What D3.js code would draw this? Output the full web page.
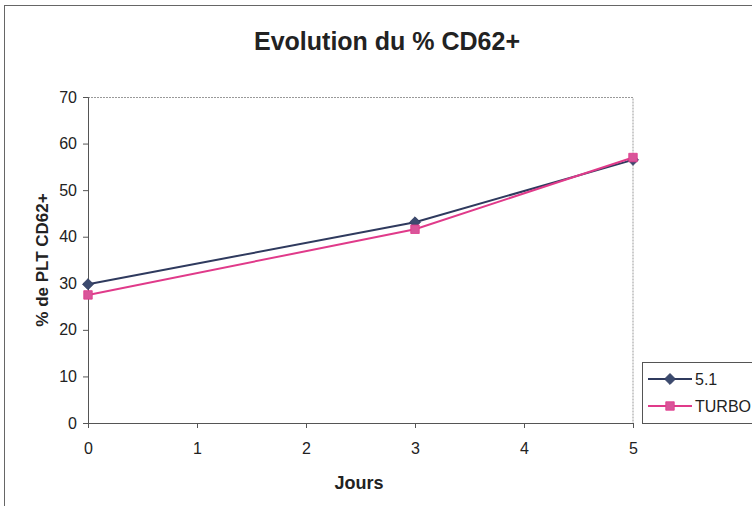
<!DOCTYPE html>
<html>
<head>
<meta charset="utf-8">
<script src="https://cdn.jsdelivr.net/npm/d3@7"></script>
<style>
  body { margin: 0; background: #fff; }
  svg { display: block; font-family: "Liberation Sans", Arial, sans-serif; }
</style>
</head>
<body>
<div id="chart"></div>
<script>
const days = [0, 3, 5];
const serie51 = [29.8, 43.1, 56.5];
const serieTurbo = [27.5, 41.6, 57.0];
const seriesNames = ['5.1', 'TURBO'];
const xTicks = [0, 1, 2, 3, 4, 5];
const yTicks = [0, 10, 20, 30, 40, 50, 60, 70];

const W = 752, H = 506;
const margin = { top: 97, right: 119, bottom: 83, left: 88 };
const iW = W - margin.left - margin.right;
const iH = H - margin.top - margin.bottom;
const FONT = '"Liberation Sans", Arial, sans-serif';

const svg = d3.select('#chart').append('svg')
  .attr('width', W).attr('height', H);

// outer chart frame
svg.append('rect')
  .attr('x', 4.5).attr('y', 5.5)
  .attr('width', W + 20).attr('height', H + 20)
  .attr('fill', 'none').attr('stroke', '#666').attr('stroke-width', 1);

svg.append('text')
  .attr('x', 387).attr('y', 50)
  .attr('text-anchor', 'middle')
  .attr('font-size', '25px').attr('font-weight', 'bold')
  .attr('fill', '#222')
  .text('Evolution du % CD62+');

const g = svg.append('g').attr('transform', `translate(${margin.left},${margin.top})`);

const x = d3.scaleLinear().domain([0, 5]).range([0, iW]);
const y = d3.scaleLinear().domain([0, 70]).range([iH, 0]);

// plot area top/right border (dotted)
g.append('path')
  .attr('d', `M0,0.5H${iW}V${iH}`)
  .attr('fill', 'none').attr('stroke', '#999')
  .attr('stroke-dasharray', '2,1');

// axes
g.append('g')
  .call(d3.axisLeft(y).tickValues(yTicks).tickSize(5).tickPadding(6))
  .call(ax => ax.select('.domain').attr('stroke', '#555'))
  .call(ax => ax.selectAll('.tick line').attr('stroke', '#555'))
  .call(ax => ax.selectAll('text').attr('font-size', '16px').attr('fill', '#222')
    .attr('font-family', FONT));

g.append('g')
  .attr('transform', `translate(0,${iH})`)
  .call(d3.axisBottom(x).tickValues(xTicks).tickFormat(d3.format('d')).tickSize(5).tickPadding(15))
  .call(ax => ax.select('.domain').attr('stroke', '#555'))
  .call(ax => ax.selectAll('.tick line').attr('stroke', '#555'))
  .call(ax => ax.selectAll('text').attr('font-size', '16px').attr('fill', '#222')
    .attr('font-family', FONT));

// axis titles
svg.append('text')
  .attr('transform', `translate(48,${margin.top + iH / 2}) rotate(-90)`)
  .attr('text-anchor', 'middle')
  .attr('font-size', '17px').attr('font-weight', 'bold').attr('fill', '#222')
  .text('% de PLT CD62+');

svg.append('text')
  .attr('x', 359).attr('y', 489)
  .attr('text-anchor', 'middle')
  .attr('font-size', '18px').attr('font-weight', 'bold').attr('fill', '#222')
  .text('Jours');

// Excel style markers: diamond = square turned 45 degrees
const diamond = d3.symbol().type(d3.symbolSquare).size(60);
const square = d3.symbol().type(d3.symbolSquare).size(72);

const series = [
  { name: seriesNames[0], values: serie51, color: '#2f3a5e', marker: '#3b4a6e', sym: diamond, rot: 45 },
  { name: seriesNames[1], values: serieTurbo, color: '#e03a8a', marker: '#d9559a', sym: square, rot: 0 }
];

const line = d3.line().x(d => x(d[0])).y(d => y(d[1]));

series.forEach(s => {
  const pts = days.map((d, i) => [d, s.values[i]]);
  g.append('path')
    .datum(pts)
    .attr('fill', 'none')
    .attr('stroke', s.color)
    .attr('stroke-width', 2)
    .attr('d', line);
  g.selectAll(null)
    .data(pts)
    .join('path')
    .attr('transform', d => `translate(${x(d[0])},${y(d[1])}) rotate(${s.rot})`)
    .attr('d', s.sym())
    .attr('fill', s.marker)
    .attr('stroke', s.color).attr('stroke-width', 0.8);
});

// legend
const lg = svg.append('g').attr('transform', 'translate(642,362)');
lg.append('rect')
  .attr('x', 0.5).attr('y', 0.5).attr('width', 130).attr('height', 61)
  .attr('fill', '#fff').attr('stroke', '#555');
series.forEach((s, i) => {
  const cy = 17 + i * 27;
  lg.append('line')
    .attr('x1', 6).attr('x2', 50).attr('y1', cy).attr('y2', cy)
    .attr('stroke', s.color).attr('stroke-width', 2);
  lg.append('path')
    .attr('transform', `translate(28,${cy}) rotate(${s.rot})`)
    .attr('d', s.sym())
    .attr('fill', s.marker).attr('stroke', s.color).attr('stroke-width', 0.8);
  lg.append('text')
    .attr('x', 53).attr('y', cy + 6)
    .attr('font-size', '16px').attr('fill', '#222')
    .attr('font-family', FONT)
    .text(s.name);
});
</script>
</body>
</html>
